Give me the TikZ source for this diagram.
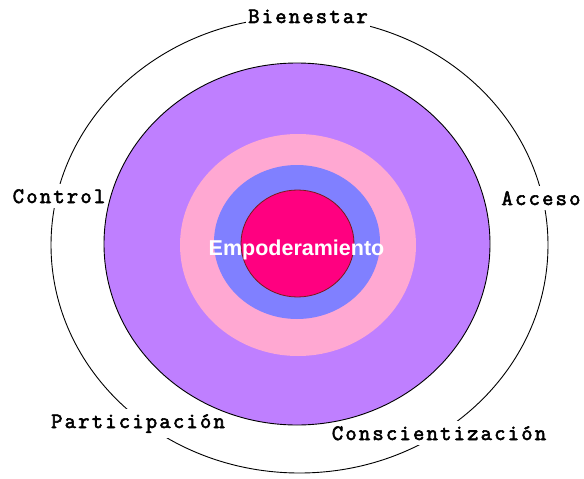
\documentclass[tikz,border=0pt]{standalone}
\usepackage{fontspec}
\setmainfont{Liberation Sans}
\newfontfamily\labfont{Latin Modern Mono}[FakeBold=2.6,LetterSpace=10]
\definecolor{lila}{HTML}{BF7FFF}
\definecolor{rosa}{HTML}{FFA8D2}
\definecolor{azul}{HTML}{8080FF}
\definecolor{fucsia}{HTML}{FF0080}
\definecolor{borde}{HTML}{7A1A1A}

\tikzset{
  etiqueta/.style={fill=white,inner xsep=2pt,inner ysep=5pt,anchor=base,
    font=\labfont\fontsize{22}{24}\selectfont},
  centro/.style={text=white,anchor=base,font=\bfseries\fontsize{21.5}{24}\selectfont}
}

\begin{document}
\begin{tikzpicture}[x=1pt,y=-1pt]
  \useasboundingbox (0,0) rectangle (584,479);
  % anillo exterior y etiquetas
  \draw[line width=0.9pt] (299.5,245) ellipse [x radius=248.5,y radius=228];
  \node[etiqueta] (bienestar) at (308,23) {Bienestar};
  \node[etiqueta] (control) at (59,203) {Control};
  \node[etiqueta] (acceso) at (541,205) {Acceso};
  \node[etiqueta] (participacion) at (138,428) {Participación};
  \node[etiqueta] (concienc) at (439,440) {Conscientización};
  % niveles
  \fill[lila] (297,244) ellipse [x radius=193,y radius=181];
  \draw[line width=0.9pt] (297,244) ellipse [x radius=193,y radius=181];
  \fill[rosa] (298,245) ellipse [x radius=118,y radius=111];
  \fill[azul] (297,242) ellipse [x radius=83,y radius=77];
  \fill[fucsia] (297.5,243.5) ellipse [x radius=56.5,y radius=53.5];
  \draw[borde,line width=0.8pt] (297.5,243.5) ellipse [x radius=56.5,y radius=53.5];
  \node[centro] (empoderamiento) at (296.5,255) {Empoderamiento};
\end{tikzpicture}
\end{document}
